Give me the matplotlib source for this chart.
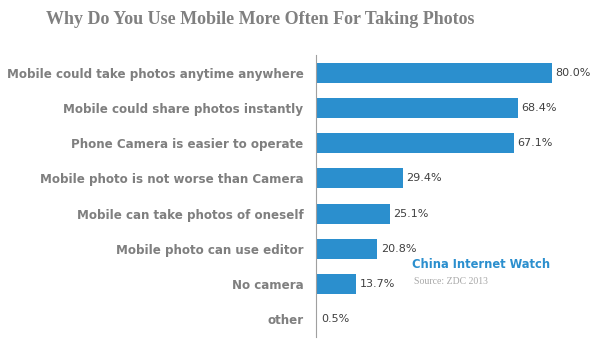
import matplotlib
matplotlib.use("Agg")
import matplotlib.pyplot as plt

reasons = ["Mobile could take photos anytime anywhere",
           "Mobile could share photos instantly",
           "Phone Camera is easier to operate",
           "Mobile photo is not worse than Camera",
           "Mobile can take photos of oneself",
           "Mobile photo can use editor",
           "No camera",
           "other"]
shares = [80.0, 68.4, 67.1, 29.4, 25.1, 20.8, 13.7, 0.5]

fig = plt.figure(figsize=(6.0, 3.59), dpi=100)
ax = fig.add_axes([316/600, 1 - 337/359, 284/600, 282/359])

ypos = list(range(len(reasons)))
ax.barh(ypos, shares, height=0.57, color="#2b8fce")
ax.set_ylim(len(reasons) - 0.5, -0.5)
ax.set_xlim(0, 96.3)

for y, v in zip(ypos, shares):
    ax.text(v + 1.2, y, "%.1f%%" % v, va="center", ha="left",
            fontsize=8, color="#404040")

ax.set_yticks(ypos)
ax.set_yticklabels(reasons, fontsize=8.6, fontweight="bold", color="#7f7f7f")
ax.tick_params(axis="y", length=0, pad=9)
ax.set_xticks([])
for s in ["top", "right", "bottom"]:
    ax.spines[s].set_visible(False)
ax.spines["left"].set_color("#a0a0a0")

fig.text(260/600, 1 - 19/359, "Why Do You Use Mobile More Often For Taking Photos",
         ha="center", va="center", fontsize=13, fontweight="bold",
         color="#808080", family="Liberation Serif")

fig.text(412/600, 1 - 265/359, "China Internet Watch", ha="left", va="center",
         fontsize=9.2, fontweight="bold", color="#2b8fce",
         family="DejaVu Sans", fontstretch="condensed")
fig.text(414/600, 1 - 282/359, "Source: ZDC 2013", ha="left", va="center",
         fontsize=7, color="#a8a8a8", family="Liberation Serif")

fig.savefig("out.png", dpi=100, facecolor="white")
